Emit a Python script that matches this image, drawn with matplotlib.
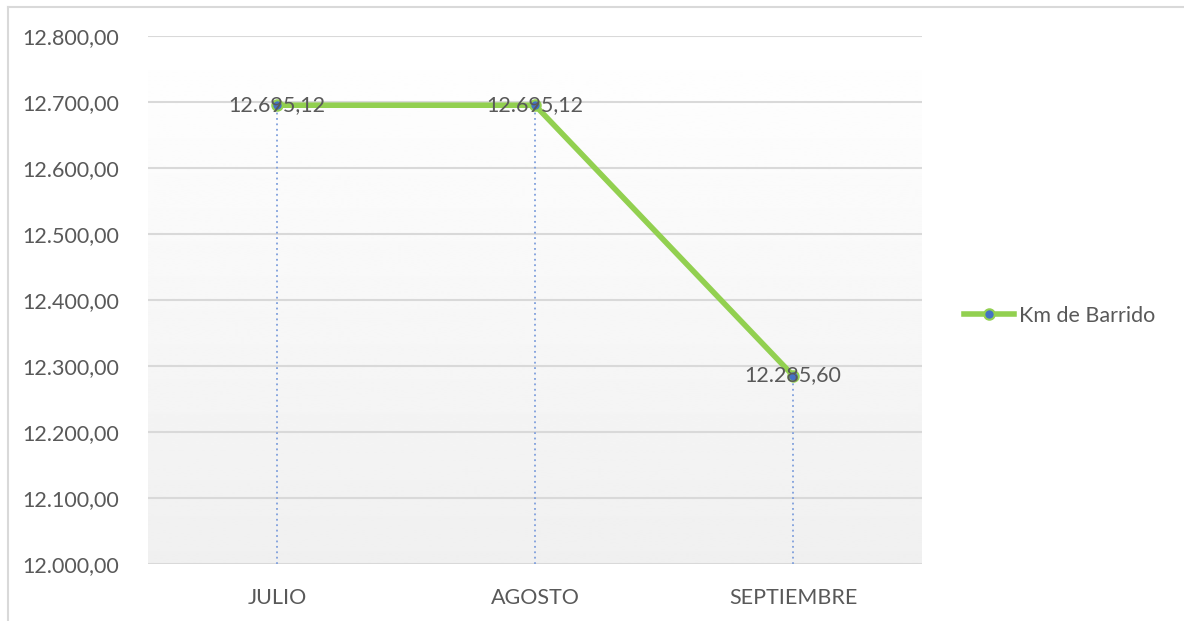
import numpy as np
import matplotlib
matplotlib.use("Agg")
from matplotlib import pyplot as plt
from matplotlib.lines import Line2D

months = ["JULIO", "AGOSTO", "SEPTIEMBRE"]
km_barrido = [12695.12, 12695.12, 12285.60]
value_labels = ["12.695,12", "12.695,12", "12.285,60"]
y_ticks = [12000, 12100, 12200, 12300, 12400, 12500, 12600, 12700, 12800]

plt.rcParams["font.family"] = ["Lato", "DejaVu Sans"]
text_color = "#595959"
fs = 15.5


def fmt(v):
    # Spanish number format: 12.800,00
    s = f"{v:,.2f}"
    return s.replace(",", "X").replace(".", ",").replace("X", ".")


fig = plt.figure(figsize=(11.84, 6.21), dpi=100)
ax = fig.add_axes([148 / 1184, 1 - 564 / 621, (922 - 148) / 1184, (564 - 36) / 621])

x = np.arange(len(months))
ax.set_xlim(-0.5, len(months) - 0.5)
ax.set_ylim(y_ticks[0], y_ticks[-1])

# gradient background of the plot area
grad = np.linspace(1.0, 0.94, 256).reshape(-1, 1)
ax.imshow(grad, cmap="gray", vmin=0, vmax=1, aspect="auto",
          extent=[-0.5, len(months) - 0.5, y_ticks[0], y_ticks[-1]],
          origin="upper", interpolation="bilinear", zorder=0)

for t in y_ticks:
    ax.axhline(t, color="#d9d9d9", lw=1.5, zorder=1)

# drop lines
ax.vlines(x, y_ticks[0], km_barrido, colors="#7f9fdc", linestyles=(0, (1, 2)),
          lw=1.3, zorder=2)

ax.plot(x, km_barrido, color="#92d050", lw=4, marker="o", markersize=7.5,
        markerfacecolor="#4472c4", markeredgecolor="#92d050", markeredgewidth=1.5,
        label="Km de Barrido", zorder=3)

for xi, yi, lbl in zip(x, km_barrido, value_labels):
    ax.text(xi, yi, lbl, ha="center", va="center", fontsize=fs,
            color=text_color, zorder=4)

ax.set_xticks(x)
ax.set_xticklabels(months)
ax.set_yticks(y_ticks)
ax.set_yticklabels([fmt(t) for t in y_ticks])
ax.tick_params(axis="both", length=0, labelsize=fs, labelcolor=text_color)
ax.tick_params(axis="x", pad=17)
ax.tick_params(axis="y", pad=21)
for s in ax.spines.values():
    s.set_visible(False)

leg = fig.legend(handles=[Line2D([0], [0], color="#92d050", lw=4, marker="o",
                                 markersize=7.5, markerfacecolor="#4472c4",
                                 markeredgecolor="#92d050", markeredgewidth=1.5)],
                 labels=["Km de Barrido"], loc="center left",
                 bbox_to_anchor=(945 / 1184, 1 - 316 / 621), frameon=False,
                 fontsize=fs, handlelength=2.3, handletextpad=0.25)
for t in leg.get_texts():
    t.set_color(text_color)

# chart frame (only top and left visible in the crop)
fig.add_artist(Line2D([8 / 1184, 8 / 1184], [0, 1 - 7 / 621], color="#d9d9d9",
                      lw=1.5, transform=fig.transFigure))
fig.add_artist(Line2D([8 / 1184, 1], [1 - 7 / 621, 1 - 7 / 621], color="#d9d9d9",
                      lw=1.5, transform=fig.transFigure))

fig.savefig("out.png", dpi=100, facecolor="white")
